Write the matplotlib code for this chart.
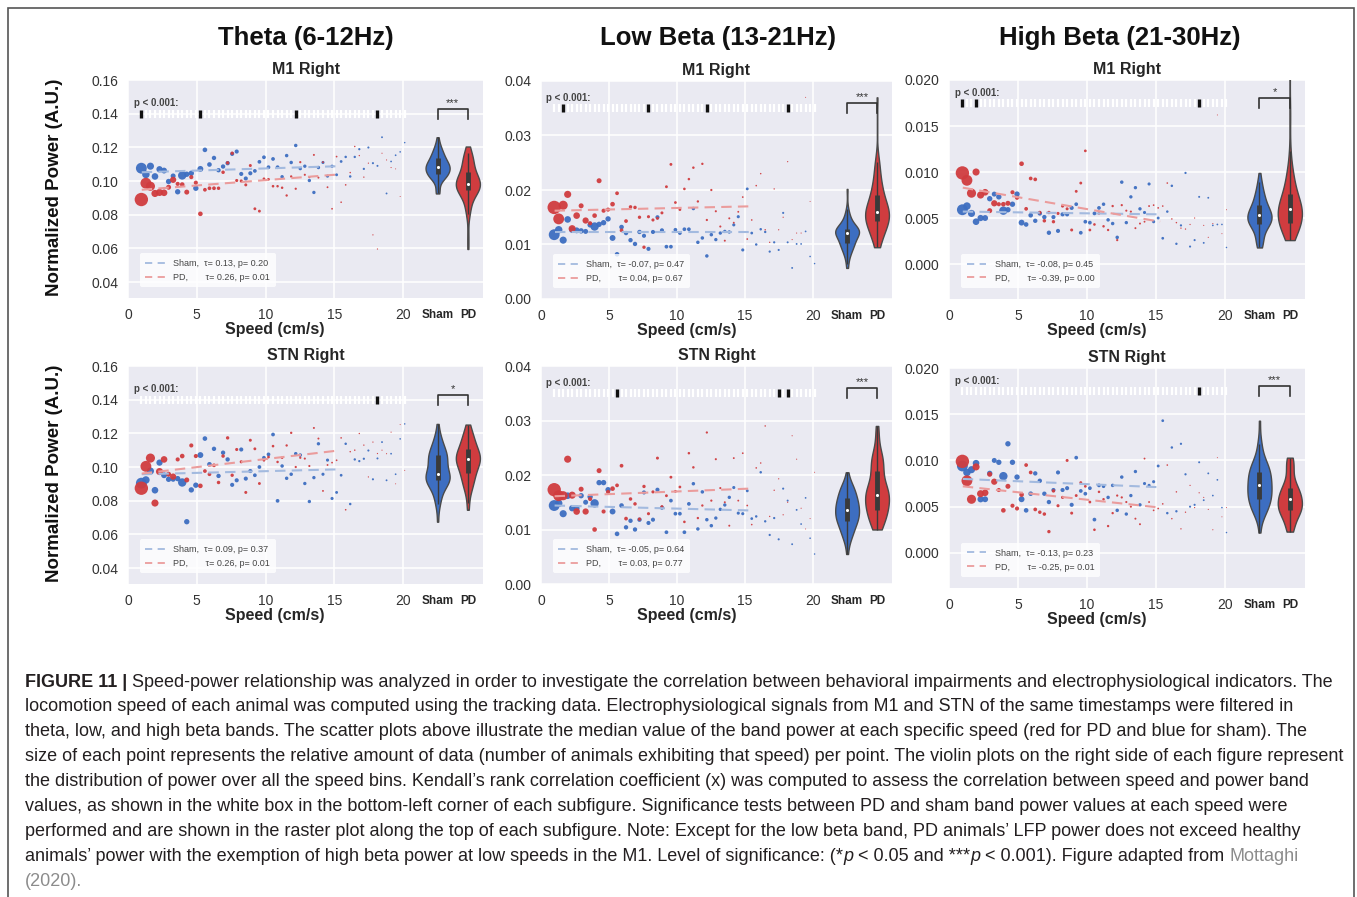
import numpy as np
import matplotlib
matplotlib.use('Agg')
import matplotlib.pyplot as plt
from matplotlib.lines import Line2D
from matplotlib.patches import Rectangle
from matplotlib.ticker import FormatStrFormatter

plt.rcParams['font.family'] = ['Liberation Sans', 'DejaVu Sans']

W, H = 1357, 897
nan = np.nan

# speed bins (cm/s)
speed = [0.97, 1.30, 1.63, 1.96, 2.29, 2.62, 2.95, 3.28, 3.61, 3.94,
         4.27, 4.60, 4.93, 5.26, 5.59, 5.92, 6.25, 6.58, 6.91, 7.24,
         7.57, 7.90, 8.23, 8.56, 8.89, 9.22, 9.55, 9.88, 10.21, 10.54,
         10.87, 11.20, 11.53, 11.86, 12.19, 12.52, 12.85, 13.18, 13.51, 13.84,
         14.17, 14.50, 14.83, 15.16, 15.49, 15.82, 16.15, 16.48, 16.81, 17.14,
         17.47, 17.80, 18.13, 18.46, 18.79, 19.12, 19.45, 19.78, 20.11]

# relative amount of data per bin (marker diameter, px)
sham_weight = [8.7, 6.0, 5.7, 5.3, 5.0, 4.7, 4.3, 4.0, 4.3, 6.7,
               4.3, 4.3, 4.3, 4.7, 3.7, 3.7, 3.5, 3.5, 3.5, 3.5,
               3.3, 3.3, 3.3, 3.3, 3.3, 3.0, 3.0, 3.0, 3.0, 3.0,
               3.0, 2.8, 2.8, 2.8, 2.8, 2.8, 2.7, 2.7, 2.7, 2.7,
               2.5, 2.5, 2.5, 2.3, 2.2, 2.0, 2.0, 1.9, 1.8, 1.8,
               1.7, 1.7, 1.6, 1.5, 1.5, 1.4, 1.4, 1.3, 1.2]
pd_weight = [10.7, 8.7, 7.3, 5.7, 5.7, 5.3, 4.0, 5.0, 3.3, 3.7,
             4.0, 3.3, 3.3, 3.7, 3.0, 3.0, 3.0, 2.8, 2.8, 2.7,
             2.7, 2.5, 2.5, 2.4, 2.4, 2.3, 2.3, 2.2, 2.2, 2.1,
             2.0, 2.0, 1.9, 1.9, 1.8, 1.8, 1.7, 1.7, 1.6, 1.6,
             1.5, 1.5, 1.4, 1.4, 1.3, 1.3, 1.2, 1.2, 1.1, 1.1,
             1.0, 1.0, 1.0, 0.9, 0.9, 0.9, 0.8, 0.8, 0.8]

# median band power per speed bin
theta_m1_sham = [0.1076, 0.1039, 0.1088, 0.1027, 0.1070, 0.1062, 0.0997, 0.1030, 0.0936, 0.1033,
                 0.1040, 0.1046, 0.0957, 0.1072, 0.1185, 0.1098, 0.1137, 0.1064, 0.1086, 0.1106,
                 0.1161, 0.1175, 0.1042, 0.1015, 0.1046, 0.1060, 0.1114, 0.1141, 0.1082, 0.1131,
                 0.1082, 0.1025, 0.1151, 0.1110, 0.1211, 0.1074, 0.1088, 0.1003, 0.0932, 0.1080,
                 0.1110, 0.1029, 0.1088, 0.1037, 0.1116, 0.1143, 0.1027, 0.1143, 0.1189, 0.1072,
                 0.1199, 0.1106, 0.1090, 0.1260, 0.0926, 0.1116, 0.1153, 0.1173, 0.1228]
theta_m1_pd = [0.0890, 0.0987, 0.0969, 0.0926, 0.0932, 0.0930, 0.0963, 0.1007, 0.0983, 0.0979,
               0.0934, 0.1023, 0.0990, 0.0805, 0.0948, 0.0957, 0.0957, 0.0957, 0.1052, 0.1108,
               0.1165, 0.1003, 0.1000, 0.0977, 0.1092, 0.0835, 0.0821, 0.1013, 0.1010, 0.0969,
               0.0969, 0.0960, 0.0914, 0.1027, 0.0954, 0.1112, 0.1037, 0.1023, 0.1155, 0.1020,
               0.1112, 0.0963, 0.0835, 0.1145, 0.0874, 0.0977, 0.1050, 0.1205, 0.1151, 0.1023,
               0.1106, 0.0680, 0.0596, 0.1165, 0.1125, 0.1080, 0.1072, 0.0908, nan]
lowbeta_m1_sham = [0.0118, 0.0127, 0.0108, 0.0146, 0.0127, 0.0126, 0.0125, 0.0124, 0.0136, 0.0133,
                   0.0137, 0.0140, 0.0147, 0.0112, 0.0082, 0.0132, 0.0121, 0.0108, 0.0101, 0.0123,
                   0.0116, 0.0092, 0.0123, 0.0150, 0.0126, 0.0096, 0.0096, 0.0127, 0.0121, 0.0128,
                   0.0128, 0.0166, 0.0104, 0.0112, 0.0079, 0.0118, 0.0109, 0.0121, 0.0124, 0.0123,
                   0.0136, 0.0151, 0.0090, 0.0202, 0.0121, 0.0100, 0.0128, 0.0123, 0.0087, 0.0104,
                   0.0090, 0.0158, 0.0104, 0.0057, 0.0101, 0.0101, 0.0124, 0.0078, 0.0065]
lowbeta_m1_pd = [0.0168, 0.0147, 0.0172, 0.0192, 0.0129, 0.0153, 0.0171, 0.0144, 0.0139, 0.0153,
                 0.0217, 0.0162, 0.0164, 0.0174, 0.0194, 0.0126, 0.0143, 0.0169, 0.0168, 0.0150,
                 0.0095, 0.0151, 0.0145, 0.0148, 0.0158, 0.0206, 0.0247, 0.0177, 0.0164, 0.0202,
                 0.0220, 0.0241, 0.0179, 0.0248, 0.0145, 0.0200, 0.0161, 0.0133, 0.0107, 0.0148,
                 0.0140, 0.0160, 0.0187, 0.0110, 0.0145, 0.0208, 0.0230, 0.0127, 0.0104, 0.0202,
                 0.0127, 0.0150, 0.0252, 0.0109, 0.0121, 0.0121, 0.0370, 0.0179, nan]
highbeta_m1_sham = [0.0059, 0.0063, 0.0055, 0.0046, 0.0050, 0.0050, 0.0071, 0.0076, 0.0073, 0.0058,
                    0.0059, 0.0065, 0.0076, 0.0045, 0.0043, 0.0053, 0.0047, 0.0055, 0.0051, 0.0034,
                    0.0051, 0.0036, 0.0054, 0.0054, 0.0061, 0.0065, 0.0034, 0.0046, 0.0045, 0.0055,
                    0.0061, 0.0065, 0.0048, 0.0044, 0.0029, 0.0089, 0.0045, 0.0073, 0.0083, 0.0060,
                    0.0056, 0.0087, 0.0046, 0.0050, 0.0028, 0.0057, 0.0085, 0.0022, 0.0042, 0.0099,
                    0.0019, 0.0026, 0.0073, 0.0023, 0.0072, 0.0042, 0.0043, 0.0043, 0.0018]
highbeta_m1_pd = [0.0099, 0.0091, 0.0077, 0.0100, 0.0075, 0.0078, 0.0058, 0.0066, 0.0065, 0.0065,
                  0.0066, 0.0078, 0.0072, 0.0109, 0.0060, 0.0093, 0.0092, 0.0056, 0.0047, 0.0056,
                  0.0046, 0.0055, 0.0063, 0.0060, 0.0037, 0.0079, 0.0088, 0.0123, 0.0037, 0.0043,
                  0.0055, 0.0041, 0.0037, 0.0063, 0.0026, 0.0064, 0.0058, 0.0057, 0.0039, 0.0044,
                  0.0046, 0.0063, 0.0064, 0.0061, 0.0063, 0.0088, 0.0049, 0.0045, 0.0039, 0.0038,
                  0.0043, 0.0050, 0.0225, 0.0042, 0.0029, 0.0044, 0.0162, 0.0033, 0.0059]
theta_stn_sham = [0.0904, 0.0923, 0.0976, 0.0862, 0.1026, 0.0951, 0.0927, 0.0927, 0.0931, 0.0908,
                  0.0675, 0.0864, 0.0892, 0.1071, 0.1169, 0.1016, 0.1108, 0.0947, 0.1085, 0.1045,
                  0.0894, 0.0921, 0.1104, 0.0931, 0.0976, 0.0951, 0.1000, 0.1055, 0.1075, 0.1193,
                  0.0799, 0.1006, 0.0933, 0.0957, 0.1079, 0.1071, 0.0902, 0.0795, 0.0937, 0.1138,
                  0.0957, 0.1041, 0.0813, 0.0849, 0.0951, 0.1138, 0.0780, 0.1045, 0.1035, 0.1049,
                  0.1098, 0.0927, 0.1051, 0.1148, 0.0921, 0.1079, 0.0957, 0.1167, 0.1256]
theta_stn_pd = [0.0874, 0.1004, 0.1053, 0.0786, 0.0973, 0.1045, 0.0957, 0.0943, 0.1045, 0.1065,
                0.0923, 0.1128, 0.1065, 0.0888, 0.0976, 0.0957, 0.1010, 0.0908, 0.1065, 0.1173,
                0.0951, 0.1104, 0.1031, 0.0849, 0.1159, 0.1108, 0.0902, 0.1040, 0.1059, 0.1124,
                0.1030, 0.1055, 0.1128, 0.1203, 0.1000, 0.1055, 0.1050, 0.1006, 0.1232, 0.1169,
                0.0858, 0.1012, 0.1026, 0.1040, 0.1173, 0.0746, 0.1091, 0.1100, 0.1199, 0.1130,
                0.0941, 0.1148, 0.1080, 0.1100, 0.1079, 0.1207, 0.0900, 0.1252, 0.0980]
lowbeta_stn_sham = [0.0144, 0.0148, 0.0129, 0.0162, 0.0139, 0.0139, 0.0162, 0.0150, 0.0160, 0.0148,
                    0.0186, 0.0186, 0.0173, 0.0133, 0.0092, 0.0144, 0.0104, 0.0116, 0.0100, 0.0118,
                    0.0168, 0.0112, 0.0118, 0.0173, 0.0140, 0.0095, 0.0153, 0.0129, 0.0129, 0.0095,
                    0.0147, 0.0184, 0.0101, 0.0169, 0.0118, 0.0107, 0.0121, 0.0137, 0.0145, 0.0159,
                    0.0177, 0.0130, 0.0129, 0.0171, 0.0120, 0.0124, 0.0205, 0.0115, 0.0090, 0.0121,
                    0.0082, 0.0175, 0.0153, 0.0073, 0.0136, 0.0110, 0.0158, 0.0084, 0.0055]
lowbeta_stn_pd = [0.0173, 0.0162, 0.0162, 0.0229, 0.0163, 0.0133, 0.0174, 0.0133, 0.0156, 0.0100,
                  0.0208, 0.0133, 0.0169, 0.0175, 0.0181, 0.0217, 0.0120, 0.0156, 0.0147, 0.0119,
                  0.0179, 0.0129, 0.0169, 0.0231, 0.0142, 0.0162, 0.0196, 0.0170, 0.0178, 0.0114,
                  0.0240, 0.0214, 0.0121, 0.0144, 0.0278, 0.0153, 0.0229, 0.0176, 0.0150, 0.0107,
                  0.0231, 0.0153, 0.0240, 0.0144, 0.0109, 0.0213, 0.0222, 0.0290, 0.0124, 0.0172,
                  0.0193, 0.0127, 0.0150, 0.0272, 0.0229, 0.0139, 0.0101, 0.0120, 0.0205]
highbeta_stn_sham = [0.0094, 0.0087, 0.0090, 0.0097, 0.0058, 0.0058, 0.0086, 0.0100, 0.0098, 0.0083,
                     0.0118, 0.0098, 0.0082, 0.0058, 0.0046, 0.0064, 0.0086, 0.0078, 0.0064, 0.0055,
                     0.0068, 0.0087, 0.0068, 0.0070, 0.0052, 0.0103, 0.0067, 0.0064, 0.0070, 0.0036,
                     0.0073, 0.0072, 0.0060, 0.0073, 0.0046, 0.0082, 0.0042, 0.0062, 0.0088, 0.0052,
                     0.0075, 0.0073, 0.0077, 0.0094, 0.0143, 0.0043, 0.0114, 0.0045, 0.0118, 0.0085,
                     0.0050, 0.0052, 0.0098, 0.0057, 0.0086, 0.0062, 0.0079, 0.0049, 0.0022]
highbeta_stn_pd = [0.0099, 0.0078, 0.0058, 0.0093, 0.0064, 0.0065, 0.0085, 0.0077, 0.0068, 0.0046,
                   0.0072, 0.0051, 0.0048, 0.0063, 0.0095, 0.0087, 0.0047, 0.0044, 0.0042, 0.0023,
                   0.0067, 0.0051, 0.0060, 0.0100, 0.0043, 0.0062, 0.0076, 0.0072, 0.0055, 0.0025,
                   0.0066, 0.0058, 0.0029, 0.0043, 0.0062, 0.0060, 0.0055, 0.0050, 0.0037, 0.0031,
                   0.0102, 0.0055, 0.0046, 0.0048, 0.0053, 0.0095, 0.0037, 0.0066, 0.0026, 0.0044,
                   0.0073, 0.0049, 0.0065, 0.0060, 0.0047, 0.0025, 0.0103, 0.0039, 0.0049]

# trend lines (value at start / end of the fitted speed range)
fit_speed = [1.0, 15.3]
theta_m1_fit = ([0.1052, 0.1088], [0.0948, 0.1039])
lowbeta_m1_fit = ([0.0123, 0.0123], [0.0162, 0.0170])
highbeta_m1_fit = ([0.0057, 0.0054], [0.0083, 0.0046])
theta_stn_fit = ([0.0957, 0.0986], [0.0961, 0.1098])
lowbeta_stn_fit = ([0.0144, 0.0135], [0.0161, 0.0175])
highbeta_stn_fit = ([0.0080, 0.0071], [0.0072, 0.0049])

# Kendall tau / p (sham, pd)
theta_m1_stats = ((0.13, 0.20), (0.26, 0.01))
lowbeta_m1_stats = ((-0.07, 0.47), (0.04, 0.67))
highbeta_m1_stats = ((-0.08, 0.45), (-0.39, 0.00))
theta_stn_stats = ((0.09, 0.37), (0.26, 0.01))
lowbeta_stn_stats = ((-0.05, 0.64), (0.03, 0.77))
highbeta_stn_stats = ((-0.13, 0.23), (-0.25, 0.01))

# significant speed bins (index into speed) and violin test stars
theta_m1_sig, theta_m1_star = [0, 13, 34, 52], '***'
lowbeta_m1_sig, lowbeta_m1_star = [2, 21, 34, 52], '***'
highbeta_m1_sig, highbeta_m1_star = [0, 3, 52], '*'
theta_stn_sig, theta_stn_star = [52], '*'
lowbeta_stn_sig, lowbeta_stn_star = [14, 50, 52], '***'
highbeta_stn_sig, highbeta_stn_star = [52], '***'

band_titles = ['Theta (6-12Hz)', 'Low Beta (13-21Hz)', 'High Beta (21-30Hz)']
band_title_x = [306, 718, 1120]
band_ylim = [(0.0305, 0.16), (0.0, 0.04), (-0.0038, 0.020)]
band_yticks = [[0.04, 0.06, 0.08, 0.10, 0.12, 0.14, 0.16],
               [0.00, 0.01, 0.02, 0.03, 0.04],
               [0.000, 0.005, 0.010, 0.015, 0.020]]
band_fmt = ['%.2f', '%.2f', '%.3f']
band_raster_y = [0.14, 0.035, 0.0175]

BLUE = '#3d6ec1'
RED = '#d03c3f'
BLUE_FIT = '#a3badf'
RED_FIT = '#eb9c9c'
BG = '#eaeaf2'
TXT = '#262626'
VPOS = [22.5, 24.7]

fig = plt.figure(figsize=(W / 100, H / 100), dpi=100)


def add_px_axes(left, top, width, bottom):
    return fig.add_axes([left / W, 1 - bottom / H, width / W, (bottom - top) / H])


def draw_panel(ax, band, region, sham, pd_, fit, stats, sig, star):
    ymin, ymax = band_ylim[band]
    ax.set_facecolor(BG)
    for sp in ax.spines.values():
        sp.set_visible(False)
    ax.set_xlim(0, 25.8)
    ax.set_ylim(ymin, ymax)
    ax.set_xticks([0, 5, 10, 15, 20])
    ax.set_yticks(band_yticks[band])
    ax.yaxis.set_major_formatter(FormatStrFormatter(band_fmt[band]))
    ax.grid(True, which='major', color='white', lw=1.1)
    ax.set_axisbelow(True)
    ax.tick_params(which='major', length=0, pad=7, labelsize=10, labelcolor='#333333')
    ax.set_xticks(VPOS, minor=True)
    ax.set_xticklabels(['Sham', 'PD'], minor=True, fontweight='bold', fontsize=8.5, color=TXT)
    ax.tick_params(which='minor', length=0, pad=8)

    bbox = ax.get_position()
    ax_h_px = bbox.height * H
    dpp = (ymax - ymin) / ax_h_px

    x = np.array(speed)
    for vals, wts, col in ((sham, sham_weight, BLUE), (pd_, pd_weight, RED)):
        y = np.array(vals, dtype=float)
        s = (np.array(wts) * 0.72 * 1.25) ** 2
        ok = ~np.isnan(y)
        ax.scatter(x[ok], y[ok], s=s[ok], color=col, lw=0, alpha=0.95, zorder=3)

    # trend lines
    ax.plot(fit_speed, fit[0], ls=(0, (5, 3)), color=BLUE_FIT, lw=1.5, zorder=4)
    ax.plot(fit_speed, fit[1], ls=(0, (5, 3)), color=RED_FIT, lw=1.5, zorder=4)

    # violins
    data = [np.array(v, dtype=float) for v in (sham, pd_)]
    data = [d[~np.isnan(d)] for d in data]
    parts = ax.violinplot(data, positions=VPOS, widths=1.75, showextrema=False)
    for body, col in zip(parts['bodies'], (BLUE, RED)):
        body.set_facecolor(col)
        body.set_edgecolor('#4a4a4a')
        body.set_linewidth(1.0)
        body.set_alpha(1)
        body.set_zorder(3)
    for pos, d in zip(VPOS, data):
        q1, med, q3 = np.percentile(d, [25, 50, 75])
        iqr = q3 - q1
        lo = d[d >= q1 - 1.5 * iqr].min()
        hi = d[d <= q3 + 1.5 * iqr].max()
        ax.vlines(pos, lo, hi, color='#3a3a3a', lw=1.0, zorder=4)
        ax.vlines(pos, q1, q3, color='#3a3a3a', lw=3.5, zorder=4)
        ax.scatter([pos], [med], s=5, color='white', zorder=5, lw=0)

    # raster of significance per speed bin
    ry = band_raster_y[band]
    white_x = [v for i, v in enumerate(speed) if i not in sig]
    black_x = [speed[i] for i in sig]
    ax.plot(white_x, [ry] * len(white_x), ls='none', marker='|', ms=6,
            mew=1.6, color='white', zorder=4)
    ax.plot(black_x, [ry] * len(black_x), ls='none', marker='|', ms=6,
            mew=2.4, color='#111111', zorder=5)
    ax.annotate('p < 0.001:', xy=(0.4, ry), xytext=(0, 7.5), textcoords='offset points',
                fontsize=7, fontweight='bold', color='#444444', va='center', ha='left')

    # bracket
    top = ry + 5 * dpp
    leg = ry - 5 * dpp
    ax.plot([VPOS[0], VPOS[0], VPOS[1], VPOS[1]], [leg, top, top, leg],
            color='#333333', lw=1.2, zorder=6)
    ax.text(np.mean(VPOS), top + 1 * dpp, star, ha='center', va='bottom',
            fontsize=8, color='#333333')

    # legend
    labels = ['Sham,  \u03c4= %.2f, p= %.2f' % stats[0],
              'PD,       \u03c4= %.2f, p= %.2f' % stats[1]]
    handles = [Line2D([], [], ls=(0, (4, 3)), color=BLUE_FIT, lw=1.3),
               Line2D([], [], ls=(0, (4, 3)), color=RED_FIT, lw=1.3)]
    leg_ = ax.legend(handles, labels, loc='lower left', bbox_to_anchor=(0.034, 0.05),
                     borderaxespad=0, fontsize=6.5, frameon=True, framealpha=0.8,
                     facecolor='white', edgecolor='none', labelcolor='#444444',
                     handlelength=2.2, borderpad=0.6, labelspacing=0.55, handletextpad=0.9)
    leg_.set_zorder(7)

    ax.set_title(region, fontsize=11.5, fontweight='bold', color=TXT, pad=4)
    ax.set_xlabel('Speed (cm/s)', fontsize=11.5, fontweight='bold', color=TXT)
    ax.xaxis.set_label_coords(10.7 / 25.8, -24 / ax_h_px)
    ax.xaxis.label.set_va('top')


boxes = [(128, 80, 355, 298), (541, 81, 351, 299), (949, 80, 356, 299),
         (128, 366, 355, 584), (541, 366, 351, 584), (949, 368, 356, 588)]
panel_data = [
    (0, 'M1 Right', theta_m1_sham, theta_m1_pd, theta_m1_fit, theta_m1_stats, theta_m1_sig, theta_m1_star),
    (1, 'M1 Right', lowbeta_m1_sham, lowbeta_m1_pd, lowbeta_m1_fit, lowbeta_m1_stats, lowbeta_m1_sig, lowbeta_m1_star),
    (2, 'M1 Right', highbeta_m1_sham, highbeta_m1_pd, highbeta_m1_fit, highbeta_m1_stats, highbeta_m1_sig, highbeta_m1_star),
    (0, 'STN Right', theta_stn_sham, theta_stn_pd, theta_stn_fit, theta_stn_stats, theta_stn_sig, theta_stn_star),
    (1, 'STN Right', lowbeta_stn_sham, lowbeta_stn_pd, lowbeta_stn_fit, lowbeta_stn_stats, lowbeta_stn_sig, lowbeta_stn_star),
    (2, 'STN Right', highbeta_stn_sham, highbeta_stn_pd, highbeta_stn_fit, highbeta_stn_stats, highbeta_stn_sig, highbeta_stn_star),
]
for box, pdat in zip(boxes, panel_data):
    ax = add_px_axes(*box)
    draw_panel(ax, *pdat)

for t, x in zip(band_titles, band_title_x):
    fig.text(x / W, 1 - 38 / H, t, fontsize=18.5, fontweight='bold', color='#111111',
             ha='center', va='center')
for yc in (187, 473):
    fig.text(55 / W, 1 - yc / H, 'Normalized Power (A.U.)', rotation=90, fontsize=13.5,
             fontweight='bold', color='#111111', ha='center', va='center')

# frame around the figure
fig.add_artist(Rectangle((8 / W, -0.05), 1346 / W, (H - 8) / H + 0.05,
                         transform=fig.transFigure, fill=False, ec='#555555', lw=1.2))

# caption
CAP_FONT = ['Liberation Sans Narrow', 'Liberation Sans']
CAP_COL = '#231f20'
LINK = '#8c8c8c'
caption = [
    [('FIGURE 11 | ', 'bold', 'normal', CAP_COL),
     ('Speed-power relationship was analyzed in order to investigate the correlation between behavioral impairments and electrophysiological indicators. The', 'normal', 'normal', CAP_COL)],
    [('locomotion speed of each animal was computed using the tracking data. Electrophysiological signals from M1 and STN of the same timestamps were filtered in', 'normal', 'normal', CAP_COL)],
    [('theta, low, and high beta bands. The scatter plots above illustrate the median value of the band power at each specific speed (red for PD and blue for sham). The', 'normal', 'normal', CAP_COL)],
    [('size of each point represents the relative amount of data (number of animals exhibiting that speed) per point. The violin plots on the right side of each figure represent', 'normal', 'normal', CAP_COL)],
    [('the distribution of power over all the speed bins. Kendall\u2019s rank correlation coefficient (x) was computed to assess the correlation between speed and power band', 'normal', 'normal', CAP_COL)],
    [('values, as shown in the white box in the bottom-left corner of each subfigure. Significance tests between PD and sham band power values at each speed were', 'normal', 'normal', CAP_COL)],
    [('performed and are shown in the raster plot along the top of each subfigure. Note: Except for the low beta band, PD animals\u2019 LFP power does not exceed healthy', 'normal', 'normal', CAP_COL)],
    [('animals\u2019 power with the exemption of high beta power at low speeds in the M1. Level of significance: (*', 'normal', 'normal', CAP_COL),
     ('p', 'normal', 'italic', CAP_COL),
     (' < 0.05 and ***', 'normal', 'normal', CAP_COL),
     ('p', 'normal', 'italic', CAP_COL),
     (' < 0.001). Figure adapted from ', 'normal', 'normal', CAP_COL),
     ('Mottaghi', 'normal', 'normal', LINK)],
    [('(2020).', 'normal', 'normal', LINK)],
]
renderer = fig.canvas.get_renderer()


def seg_width(text, size, weight, style):
    # advance width including trailing spaces
    t1 = fig.text(0, 0, text + '|', fontsize=size, fontweight=weight, fontstyle=style, family=CAP_FONT)
    t2 = fig.text(0, 0, '|', fontsize=size, fontweight=weight, fontstyle=style, family=CAP_FONT)
    w = t1.get_window_extent(renderer).width - t2.get_window_extent(renderer).width
    t1.remove()
    t2.remove()
    return w


base = 14.0
w1 = sum(seg_width(s[0], base, s[1], s[2]) for s in caption[0])
cap_size = base * 1312 / w1

for i, line in enumerate(caption):
    x = 25.0
    y = 682 + i * 24.9
    for text, weight, style, col in line:
        fig.text(x / W, 1 - y / H, text, fontsize=cap_size, fontweight=weight, fontstyle=style,
                 color=col, family=CAP_FONT, ha='left', va='center')
        x += seg_width(text, cap_size, weight, style)

fig.savefig('out.png', dpi=100, facecolor='white')
